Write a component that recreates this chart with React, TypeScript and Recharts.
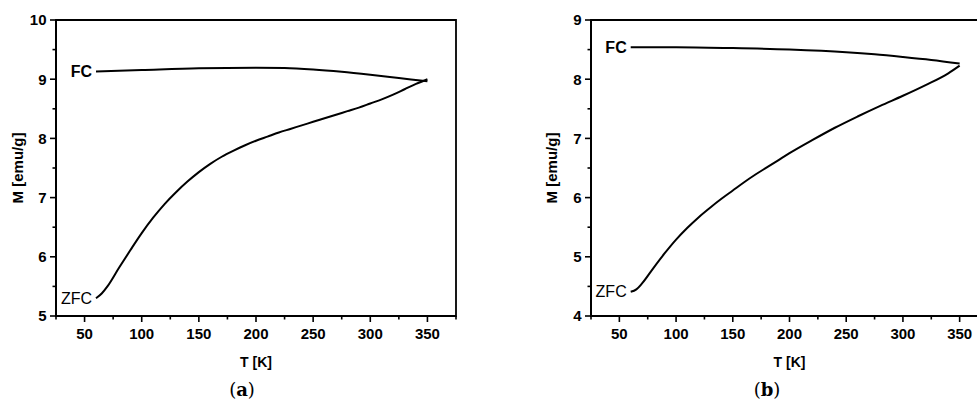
import React from 'react';
import { LineChart, Line, XAxis, YAxis, ReferenceArea } from 'recharts';

// Temperature axis ticks (shared by both panels); labels on multiples of 50
const tempTicks = [25, 50, 75, 100, 125, 150, 175, 200, 225, 250, 275, 300, 325, 350, 375];
const momentTicksA = [5, 5.5, 6, 6.5, 7, 7.5, 8, 8.5, 9, 9.5, 10];
const momentTicksB = [4, 4.5, 5, 5.5, 6, 6.5, 7, 7.5, 8, 8.5, 9];

// Panel (a): field-cooled curve
const fcTempA = [60, 100, 150, 200, 225, 250, 275, 300, 325, 350];
const fcMomentA = [9.13, 9.155, 9.185, 9.195, 9.19, 9.165, 9.125, 9.075, 9.02, 8.965];
// Panel (a): zero-field-cooled curve
const zfcTempA = [60, 65, 70, 80, 90, 100, 110, 120, 130, 140, 150, 160, 170, 180, 190, 200, 210, 220, 230, 240, 250, 260, 270, 280, 290, 300, 310, 320, 330, 340, 350];
const zfcMomentA = [5.3, 5.38, 5.5, 5.81, 6.11, 6.4, 6.66, 6.89, 7.09, 7.27, 7.43, 7.57, 7.69, 7.79, 7.88, 7.96, 8.03, 8.1, 8.16, 8.22, 8.28, 8.34, 8.4, 8.46, 8.52, 8.59, 8.66, 8.74, 8.83, 8.92, 9.0];

// Panel (b): field-cooled curve
const fcTempB = [60, 100, 150, 200, 250, 275, 300, 325, 350];
const fcMomentB = [8.54, 8.54, 8.525, 8.5, 8.455, 8.42, 8.375, 8.325, 8.265];
// Panel (b): zero-field-cooled curve
const zfcTempB = [60, 65, 70, 80, 90, 100, 110, 120, 130, 140, 150, 160, 170, 180, 190, 200, 220, 240, 260, 280, 300, 320, 340, 350];
const zfcMomentB = [4.41, 4.45, 4.55, 4.81, 5.06, 5.29, 5.49, 5.67, 5.83, 5.98, 6.12, 6.26, 6.39, 6.51, 6.63, 6.75, 6.97, 7.18, 7.37, 7.55, 7.72, 7.9, 8.1, 8.23];

const toPoints = (ts: number[], ms: number[]) => ts.map((t, i) => ({ t, m: ms[i] }));

const FONT = '"Liberation Sans", Arial, sans-serif';

const XTick = (props: any) => {
  const { x, y, payload } = props;
  const major = payload.value % 50 === 0;
  return (
    <g>
      <line x1={x} y1={y} x2={x} y2={y + (major ? 6 : 3.5)} stroke="#000" strokeWidth={1.6} />
      {major && (
        <text x={x} y={y + 23} textAnchor="middle" fontFamily={FONT} fontWeight="bold" fontSize={15} fill="#000">
          {payload.value}
        </text>
      )}
    </g>
  );
};

const YTick = (props: any) => {
  const { x, y, payload } = props;
  const major = Number.isInteger(payload.value);
  return (
    <g>
      <line x1={x} y1={y} x2={x - (major ? 6 : 3.5)} y2={y} stroke="#000" strokeWidth={1.6} />
      {major && (
        <text x={x - 9.5} y={y} dy="0.36em" textAnchor="end" fontFamily={FONT} fontWeight="bold" fontSize={15} fill="#000">
          {payload.value}
        </text>
      )}
    </g>
  );
};

// Curve name written just left of the first point of a series
const startLabel = (name: string, bold: boolean) => (p: any) => {
  if (p.index !== 0) return <g />;
  return (
    <text x={p.x - 4} y={p.y} dy="0.36em" textAnchor="end" fontFamily={FONT} fontWeight={bold ? 'bold' : 'normal'} fontSize={16} fill="#000">
      {name}
    </text>
  );
};

type PanelProps = {
  width: number;
  yWidth: number;
  marginRight: number;
  yDomain: [number, number];
  yTicks: number[];
  fc: { t: number; m: number }[];
  zfc: { t: number; m: number }[];
  labelX: number;
};

const Panel = ({ width, yWidth, marginRight, yDomain, yTicks, fc, zfc, labelX }: PanelProps) => (
  <LineChart width={width} height={401} margin={{ top: 20, right: marginRight, bottom: 34, left: 0 }}>
    <XAxis
      dataKey="t"
      type="number"
      domain={[25, 375]}
      ticks={tempTicks}
      interval={0}
      tick={<XTick />}
      tickLine={false}
      tickSize={0}
      tickMargin={0}
      height={51}
      axisLine={{ stroke: '#000', strokeWidth: 2 }}
      allowDataOverflow
      label={{ value: 'T [K]', position: 'insideBottom', offset: 0, style: { fontFamily: FONT, fontWeight: 'bold', fontSize: 14, fill: '#000' } }}
    />
    <YAxis
      dataKey="m"
      type="number"
      domain={yDomain}
      ticks={yTicks}
      interval={0}
      tick={<YTick />}
      tickLine={false}
      tickSize={0}
      tickMargin={0}
      width={yWidth}
      axisLine={{ stroke: '#000', strokeWidth: 2 }}
      allowDataOverflow
      label={{ value: 'M [emu/g]', angle: -90, position: 'insideLeft', offset: labelX, style: { textAnchor: 'middle', fontFamily: FONT, fontWeight: 'bold', fontSize: 15, fill: '#000' } }}
    />
    <ReferenceArea x1={25} x2={375} y1={yDomain[0]} y2={yDomain[1]} fill="none" stroke="#000" strokeWidth={1.8} />
    <Line data={fc} dataKey="m" type="monotone" stroke="#000" strokeWidth={2} dot={false} isAnimationActive={false} label={startLabel('FC', true)} />
    <Line data={zfc} dataKey="m" type="monotone" stroke="#000" strokeWidth={2} dot={false} isAnimationActive={false} label={startLabel('ZFC', false)} />
  </LineChart>
);

const captionStyle: React.CSSProperties = {
  position: 'absolute',
  top: 381,
  width: 60,
  textAlign: 'center',
  fontFamily: '"DejaVu Serif", "Liberation Serif", serif',
  fontSize: 18,
  lineHeight: '18px',
  color: '#000',
};

export default function App() {
  return (
    <div style={{ position: 'fixed', left: 0, top: 0, width: 977, height: 401, overflow: 'hidden', background: '#fff' }}>
      <div style={{ position: 'absolute', left: 0, top: 0 }}>
        <Panel
          width={468}
          yWidth={56}
          marginRight={12}
          yDomain={[5, 10]}
          yTicks={momentTicksA}
          fc={toPoints(fcTempA, fcMomentA)}
          zfc={toPoints(zfcTempA, zfcMomentA)}
          labelX={18}
        />
      </div>
      <div style={{ position: 'absolute', left: 490, top: 0 }}>
        <Panel
          width={510}
          yWidth={101}
          marginRight={12}
          yDomain={[4, 9]}
          yTicks={momentTicksB}
          fc={toPoints(fcTempB, fcMomentB)}
          zfc={toPoints(zfcTempB, zfcMomentB)}
          labelX={62}
        />
      </div>
      <div style={{ ...captionStyle, left: 212 }}>
        (<b>a</b>)
      </div>
      <div style={{ ...captionStyle, left: 737 }}>
        (<b>b</b>)
      </div>
    </div>
  );
}
